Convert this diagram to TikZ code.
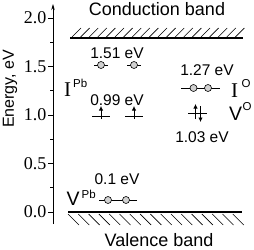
\documentclass[tikz,border=0pt]{standalone}
\usepackage{fontspec}
\setmainfont{Liberation Serif}
\setsansfont{Liberation Sans}
\usetikzlibrary{arrows.meta}
\begin{document}
\begin{tikzpicture}[x=1pt,y=-1pt,
  lbl/.style={font=\sffamily\fontsize{15.5}{15.5}\selectfont, inner sep=0pt},
  ticklbl/.style={font=\fontsize{18}{18}\selectfont, anchor=east, inner sep=0pt},
  bandlbl/.style={font=\sffamily\fontsize{18}{18}\selectfont, inner sep=0pt},
  bandline/.style={line width=2.6pt},
  hatch/.style={line width=0.6pt},
  lev/.style={line width=0.7pt},
  dot/.style={draw, line width=0.6pt, fill=black!18},
  spin/.style={line width=0.8pt, -{Latex[length=4.5pt,width=4.5pt]}},
  romanI/.style={font=\fontsize{21}{21}\selectfont, inner sep=0pt, anchor=base west},
  sansV/.style={font=\sffamily\fontsize{19.5}{19.5}\selectfont, inner sep=0pt, anchor=base west},
  suplbl/.style={font=\sffamily\fontsize{11.5}{11.5}\selectfont, inner sep=0pt, anchor=base west}
]
\useasboundingbox (0,0) rectangle (254,249);

% axis
\draw[line width=0.7pt, -{Stealth[length=6pt,width=3.5pt]}] (53,224) -- (53,4);
\foreach \v/\t in {0/0.0, 0.5/0.5, 1/1.0, 1.5/1.5, 2/2.0}{
  \draw[line width=0.6pt] (53,212-97*\v) -- (48,212-97*\v);
  \node[ticklbl] (t\v) at (46.5,212-97*\v) {\t};
}
\foreach \v in {0.25,0.75,1.25,1.75}{
  \draw[line width=0.6pt] (53,212-97*\v) -- (50,212-97*\v);
}
\node[rotate=90, inner sep=0pt, font=\sffamily\fontsize{16}{16}\selectfont] (ylab) at (10,89) {Energy, eV};

% conduction band
\draw[bandline] (70,38) -- (243,38);
\foreach \i in {0,...,19}{
  \draw[hatch] (72+8.6*\i,37) -- (81+8.6*\i,28);
}
\node[bandlbl] (cb) at (157,9) {Conduction band};

% valence band
\draw[bandline] (68,212) -- (242,212);
\foreach \i in {0,...,16}{
  \draw[hatch] (68+10.3*\i,214) -- (79+10.3*\i,225);
}
\node[bandlbl] (vb) at (159,240) {Valence band};

% I^Pb 1.51 eV
\node[lbl] (l151) at (117,53) {1.51 eV};
\foreach \x in {101,134}{
  \draw[lev] (\x-7,65) -- (\x+7,65);
  \draw[dot] (\x,65) circle (3.5);
}
% 0.99 eV
\node[lbl] (l099) at (117,100) {0.99 eV};
\foreach \x in {101,134}{
  \draw[lev] (\x-9,116) -- (\x+9,116);
  \draw[spin] (\x,119) -- (\x,106);
}
\node[romanI] (ipbI) at (64,96) {I};
\node[suplbl] (ipbS) at (73,87) {Pb};

% I^O 1.27 eV
\node[lbl] (l127) at (207,70) {1.27 eV};
\draw[lev] (181,88) -- (220,88);
\draw[dot] (193.5,88) circle (3.5);
\draw[dot] (208,88) circle (3.5);
\node[romanI] (ioI) at (231,97) {I};
\node[suplbl] (ioS) at (241.5,87) {O};

% V^O 1.03 eV
\draw[lev] (188,113) -- (207,113);
\draw[spin] (195.5,119) -- (195.5,104);
\draw[spin] (200.5,106) -- (200.5,122);
\node[lbl] (l103) at (202,137) {1.03 eV};
\node[sansV] (voV) at (229,120) {V};
\node[suplbl] (voS) at (242.5,110) {O};

% V^Pb 0.1 eV
\node[lbl] (l01) at (117,179) {0.1 eV};
\draw[lev] (99,200) -- (137,200);
\draw[dot] (108,200) circle (3.5);
\draw[dot] (126,200) circle (3.5);
\node[sansV] (vpbV) at (66.5,205) {V};
\node[suplbl] (vpbS) at (81.5,198) {Pb};
\end{tikzpicture}
\end{document}
